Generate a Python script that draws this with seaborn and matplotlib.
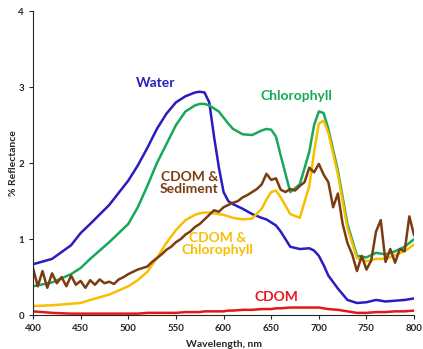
import numpy as np
import pandas as pd
import seaborn as sns
import matplotlib.pyplot as plt

# wavelengths (nm) for the smooth spectra
wl = [400, 420, 440, 450, 460, 480, 500, 510, 520, 530, 540, 550, 560, 570, 575,
      580, 585, 590, 595, 600, 605, 610, 620, 630, 640, 645, 650, 655, 660, 670,
      680, 690, 695, 700, 705, 710, 720, 730, 740, 750, 760, 770, 780, 790, 800]

water = [0.67, 0.74, 0.92, 1.08, 1.2, 1.45, 1.77, 1.97, 2.2, 2.45, 2.65, 2.8, 2.88, 2.93, 2.94,
         2.93, 2.8, 2.35, 1.95, 1.62, 1.5, 1.46, 1.4, 1.33, 1.28, 1.26, 1.22, 1.18, 1.1, 0.9,
         0.87, 0.88, 0.85, 0.78, 0.66, 0.52, 0.35, 0.2, 0.16, 0.17, 0.2, 0.18, 0.19, 0.2, 0.22]

chlorophyll = [0.38, 0.43, 0.54, 0.62, 0.74, 0.96, 1.2, 1.42, 1.7, 2.0, 2.25, 2.5, 2.68, 2.76, 2.78,
               2.78, 2.76, 2.72, 2.68, 2.6, 2.52, 2.45, 2.38, 2.37, 2.43, 2.45, 2.44, 2.35, 2.1, 1.62,
               1.72, 2.15, 2.5, 2.68, 2.66, 2.45, 1.9, 1.2, 0.78, 0.76, 0.82, 0.8, 0.84, 0.9, 1.0]

cdom_chl = [0.12, 0.13, 0.15, 0.16, 0.2, 0.27, 0.38, 0.46, 0.57, 0.75, 0.95, 1.12, 1.25, 1.32, 1.34,
            1.35, 1.35, 1.34, 1.33, 1.32, 1.3, 1.28, 1.26, 1.27, 1.4, 1.52, 1.62, 1.64, 1.55, 1.33,
            1.28, 1.7, 2.15, 2.52, 2.56, 2.4, 1.85, 1.15, 0.75, 0.71, 0.74, 0.74, 0.79, 0.84, 0.93]

cdom = [0.05, 0.03, 0.02, 0.02, 0.02, 0.02, 0.02, 0.02, 0.03, 0.03, 0.03, 0.03, 0.04, 0.04, 0.04,
        0.05, 0.05, 0.05, 0.05, 0.05, 0.06, 0.06, 0.07, 0.07, 0.08, 0.08, 0.08, 0.09, 0.09, 0.1,
        0.1, 0.1, 0.1, 0.1, 0.09, 0.08, 0.07, 0.05, 0.03, 0.03, 0.04, 0.04, 0.05, 0.05, 0.06]

# noisier sediment spectrum, 5 nm steps
wl_sed = list(range(400, 805, 5))
sediment = [0.62, 0.38, 0.58, 0.36, 0.55, 0.42, 0.5, 0.38, 0.52, 0.4,
            0.45, 0.36, 0.46, 0.4, 0.47, 0.42, 0.44, 0.41, 0.47, 0.5,
            0.54, 0.57, 0.6, 0.62, 0.64, 0.7, 0.75, 0.8, 0.86, 0.9,
            0.96, 1.0, 1.06, 1.1, 1.16, 1.2, 1.26, 1.32, 1.38, 1.36,
            1.42, 1.45, 1.48, 1.5, 1.55, 1.58, 1.62, 1.66, 1.72, 1.86,
            1.78, 1.8, 1.65, 1.62, 1.66, 1.64, 1.7, 1.75, 1.94, 1.88,
            1.99, 1.85, 1.75, 1.42, 1.6, 1.2, 0.95, 0.8, 0.58, 0.78,
            0.6, 0.72, 1.1, 1.25, 0.7, 0.87, 0.69, 0.87, 0.84, 1.3,
            1.05]

sns.set_style("ticks")
plt.rcParams['font.family'] = ['Lato', 'DejaVu Sans']

fig, ax = plt.subplots(figsize=(4.23, 3.49), dpi=100)
fig.subplots_adjust(left=0.078, right=0.979, top=0.968, bottom=0.097)

lw = 1.8
blue, green, yellow, red, brown = '#2b1cc0', '#17a85a', '#f7bf00', '#e8151b', '#7b3c12'
sns.lineplot(x=wl, y=water, ax=ax, color=blue, linewidth=lw)
sns.lineplot(x=wl, y=chlorophyll, ax=ax, color=green, linewidth=lw)
sns.lineplot(x=wl, y=cdom_chl, ax=ax, color=yellow, linewidth=lw)
sns.lineplot(x=wl, y=cdom, ax=ax, color=red, linewidth=lw)
sns.lineplot(x=wl_sed, y=sediment, ax=ax, color=brown, linewidth=lw)

ax.set_xlim(400, 800)
ax.set_ylim(0, 4)
ax.set_xticks([400, 450, 500, 550, 600, 650, 700, 750, 800])
ax.set_yticks([0, 1, 2, 3, 4])
ax.tick_params(labelsize=7, length=3, width=0.8)
for t in ax.get_xticklabels() + ax.get_yticklabels():
    t.set_fontweight('bold')
ax.set_xlabel('Wavelength, nm', fontsize=7.5, fontweight='bold', labelpad=5)
ax.set_ylabel('% Reflectance', fontsize=7.5, fontweight='bold', labelpad=0)
sns.despine(ax=ax)

fs = 10
ax.text(529, 3.0, 'Water', color=blue, fontsize=fs, fontweight='bold', ha='center')
ax.text(676, 2.83, 'Chlorophyll', color=green, fontsize=fs, fontweight='bold', ha='center')
ax.text(564, 1.9, 'CDOM &\nSediment', color=brown, fontsize=fs, fontweight='bold',
        ha='center', va='top', linespacing=1.05)
ax.text(594, 1.1, 'CDOM &\nChlorophyll', color=yellow, fontsize=fs, fontweight='bold',
        ha='center', va='top', linespacing=1.05)
ax.text(656, 0.18, 'CDOM', color=red, fontsize=fs, fontweight='bold', ha='center')

plt.savefig('out.png', dpi=100)
